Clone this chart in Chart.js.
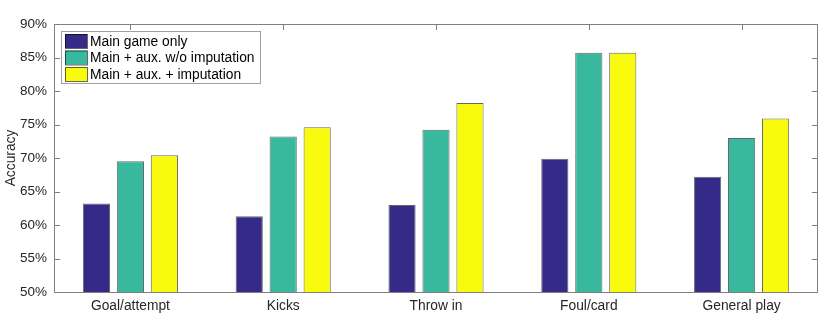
<!DOCTYPE html>
<html>
<head>
<meta charset="utf-8">
<script src="https://cdn.jsdelivr.net/npm/chart.js@4/dist/chart.umd.min.js"></script>
<style>
  html, body { margin: 0; padding: 0; background: #fff; }
  #wrap { width: 830px; height: 328px; }
</style>
</head>
<body>
<div id="wrap"><canvas id="chart" width="830" height="328"></canvas></div>
<script>
const categories = ['Goal/attempt', 'Kicks', 'Throw in', 'Foul/card', 'General play'];
const seriesNames = ['Main game only', 'Main + aux. w/o imputation', 'Main + aux. + imputation'];
const mainOnly = [63.2, 61.3, 63.0, 69.9, 67.2];
const auxNoImp = [69.5, 73.2, 74.2, 85.7, 73.0];
const auxImp = [70.4, 74.6, 78.2, 85.7, 75.9];
const colors = ['#352A87', '#38B99E', '#F9FB0E'];

const FONT = 'Liberation Sans, Arial, Helvetica, sans-serif';
const AXIS = '#808080';
const TEXT = '#262626';

// MATLAB-style box with inward ticks + legend inside the axes
const matlabBox = {
  id: 'matlabBox',
  afterDraw(chart) {
    const { ctx, chartArea: a, scales } = chart;
    ctx.save();
    ctx.strokeStyle = AXIS;
    ctx.lineWidth = 1;
    ctx.beginPath();
    ctx.rect(Math.round(a.left) + 0.5, Math.round(a.top) + 0.5,
             Math.round(a.right - a.left) - 1, Math.round(a.bottom - a.top));
    scales.y.ticks.forEach(t => {
      const y = Math.round(scales.y.getPixelForValue(t.value)) + 0.5;
      ctx.moveTo(a.left, y); ctx.lineTo(a.left + 6, y);
      ctx.moveTo(a.right, y); ctx.lineTo(a.right - 6, y);
    });
    categories.forEach((c, i) => {
      const x = Math.round(scales.x.getPixelForValue(i)) + 0.5;
      ctx.moveTo(x, a.top); ctx.lineTo(x, a.top + 6);
    });
    ctx.stroke();

    // legend
    const lx = a.left + 7, ly = a.top + 7, lw = 199, lh = 52;
    ctx.fillStyle = '#fff';
    ctx.fillRect(lx, ly, lw, lh);
    ctx.strokeStyle = '#a0a0a0';
    ctx.strokeRect(lx + 0.5, ly + 0.5, lw, lh);
    ctx.font = '13.8px ' + FONT;
    ctx.textBaseline = 'middle';
    chart.data.datasets.forEach((ds, i) => {
      const cy = ly + 10 + i * 16.5;
      ctx.fillStyle = ds.backgroundColor;
      ctx.fillRect(lx + 4, cy - 7, 22, 14);
      ctx.strokeStyle = 'rgba(0,0,0,0.6)';
      ctx.strokeRect(lx + 4.5, cy - 6.5, 22, 14);
      ctx.fillStyle = '#000';
      ctx.fillText(ds.label, lx + 29, cy + 1);
    });
    ctx.restore();
  }
};

new Chart(document.getElementById('chart'), {
  type: 'bar',
  data: {
    labels: categories,
    datasets: [
      { label: seriesNames[0], data: mainOnly, backgroundColor: colors[0] },
      { label: seriesNames[1], data: auxNoImp, backgroundColor: colors[1] },
      { label: seriesNames[2], data: auxImp, backgroundColor: colors[2] }
    ].map(d => Object.assign(d, { borderColor: 'rgba(0,0,0,0.6)', borderWidth: 1,
      categoryPercentage: 0.667, barPercentage: 0.8 }))
  },
  options: {
    responsive: false,
    animation: false,
    layout: { padding: { top: 24, right: 12, left: 0, bottom: 0 } },
    plugins: { legend: { display: false }, tooltip: { enabled: false } },
    scales: {
      x: {
        grid: { display: true, drawOnChartArea: false, drawTicks: false },
        border: { display: false },
        ticks: { color: TEXT, font: { family: FONT, size: 13.8 }, padding: 6, maxRotation: 0 },
        afterFit: s => { s.height = 36; }
      },
      y: {
        min: 50, max: 90,
        grid: { display: true, drawOnChartArea: false, drawTicks: false },
        border: { display: false },
        ticks: { stepSize: 5, color: TEXT, font: { family: FONT, size: 13.5 }, padding: 7,
          callback: v => v + '%' },
        title: { display: true, text: 'Accuracy', color: TEXT, font: { family: FONT, size: 13.8 },
          padding: { top: 3, bottom: 0 } },
        afterFit: s => { s.width = 54; }
      }
    }
  },
  plugins: [matlabBox]
});
</script>
</body>
</html>
